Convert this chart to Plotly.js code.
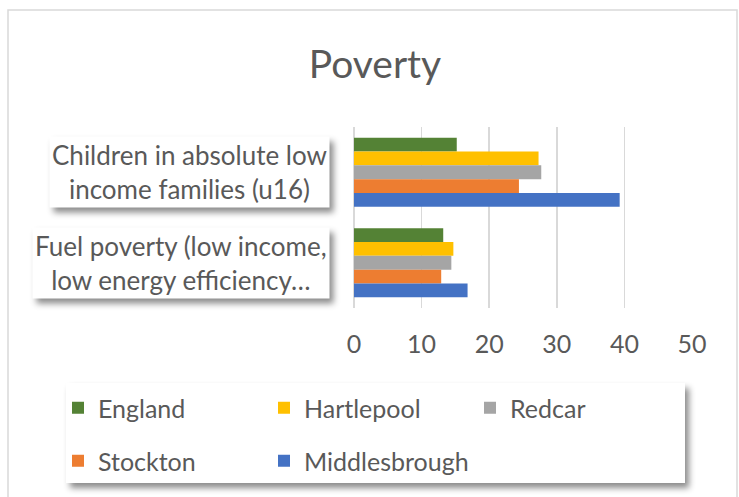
<!DOCTYPE html>
<html>
<head>
<meta charset="utf-8">
<script src="https://cdn.plot.ly/plotly-3.0.1.min.js"></script>
<style>
  html, body { margin: 0; padding: 0; background: #ffffff; }
  #chart { width: 739px; height: 497px; }
</style>
</head>
<body>
<div id="chart"></div>
<script>
// Indicator categories (top to bottom) and their drawn labels
const categories = [
  'Children in absolute low income families (u16)',
  'Fuel poverty (low income, low energy efficiency…'
];
const tickLabels = [
  'Children in absolute low<br>income families (u16)',
  'Fuel poverty (low income,<br>low energy efficiency…'
];

// Series values (%), one per category
const england       = [15.2, 13.2];
const hartlepool    = [27.3, 14.7];
const redcar        = [27.7, 14.4];
const stockton      = [24.4, 12.9];
const middlesbrough = [39.3, 16.8];

const xTicks = [0, 10, 20, 30, 40, 50];

// Layout geometry helpers (pixel -> paper coordinates)
const FIG_W = 739, FIG_H = 497;
const M = { l: 354, r: 47, t: 127, b: 189 };
const PW = FIG_W - M.l - M.r;
const PH = FIG_H - M.t - M.b;
const px = x => (x - M.l) / PW;
const py = y => (M.t + PH - y) / PH;

const FONT = 'Lato, "Open Sans", sans-serif';
const TXT = '#595959';
const SHADOW = 'drop-shadow(4px 5px 3px rgba(0,0,0,0.45))';

function series(name, values, color, legend) {
  return {
    type: 'bar',
    orientation: 'h',
    name: name,
    y: categories,
    x: values,
    marker: { color: color, line: { width: 0 } },
    legend: legend,
    hoverinfo: 'x+name'
  };
}

const data = [
  series('England', england, '#548235', 'legend'),
  series('Hartlepool', hartlepool, '#FFC000', 'legend'),
  series('Redcar', redcar, '#A5A5A5', 'legend'),
  series('Stockton', stockton, '#ED7D31', 'legend2'),
  series('Middlesbrough', middlesbrough, '#4472C4', 'legend2')
];

// Category labels drawn as white boxes beside each bar group
const annotations = categories.map((cat, i) => ({
  xref: 'paper', yref: 'y', x: px(330), y: cat,
  xanchor: 'right', yanchor: 'middle',
  text: tickLabels[i], showarrow: false, align: 'center',
  font: { family: FONT, size: 26, color: TXT },
  bgcolor: '#ffffff', borderpad: 2
}));

// Chart frame and legend panel
const shapes = [
  {
    type: 'rect', xref: 'paper', yref: 'paper', layer: 'below',
    x0: px(8), x1: px(737), y0: py(10), y1: py(520),
    line: { color: '#d9d9d9', width: 1.5 }, fillcolor: 'rgba(0,0,0,0)'
  },
  {
    type: 'rect', xref: 'paper', yref: 'paper', layer: 'above',
    x0: px(66), x1: px(685), y0: py(483), y1: py(383),
    line: { width: 0 }, fillcolor: '#ffffff'
  }
];

const legendCommon = {
  orientation: 'h',
  xref: 'paper', yref: 'paper',
  xanchor: 'left', yanchor: 'middle',
  bgcolor: 'rgba(0,0,0,0)', borderwidth: 0,
  font: { family: FONT, size: 25, color: TXT },
  entrywidth: 161, entrywidthmode: 'pixels',
  traceorder: 'normal'
};

const layout = {
  width: FIG_W, height: FIG_H,
  margin: M,
  paper_bgcolor: '#ffffff', plot_bgcolor: '#ffffff',
  font: { family: FONT, color: TXT },
  title: {
    text: 'Poverty',
    font: { family: FONT, size: 39, color: TXT },
    xref: 'container', yref: 'container',
    x: 375 / FIG_W, xanchor: 'center',
    y: 1 - 64 / FIG_H, yanchor: 'middle'
  },
  barmode: 'group',
  bargap: 0.237,
  bargroupgap: 0,
  xaxis: {
    range: [0, 50],
    tickvals: xTicks,
    ticktext: xTicks.map(String),
    showgrid: true, gridcolor: '#d9d9d9', gridwidth: 1.5,
    zeroline: true, zerolinecolor: '#d9d9d9', zerolinewidth: 1.5,
    showline: false, ticks: '',
    ticklabelstandoff: 19,
    tickfont: { family: FONT, size: 25, color: TXT },
    fixedrange: true
  },
  yaxis: {
    type: 'category',
    categoryorder: 'array', categoryarray: categories,
    autorange: 'reversed',
    showticklabels: false, showgrid: false, zeroline: false, showline: false,
    ticks: '', fixedrange: true
  },
  legend: Object.assign({}, legendCommon, { x: px(58), y: py(408) }),
  legend2: Object.assign({}, legendCommon, { x: px(58), y: py(461) }),
  annotations: annotations,
  shapes: shapes,
  showlegend: true
};

Plotly.newPlot('chart', data, layout, { displayModeBar: false, staticPlot: true })
  .then(gd => {
    // soft drop shadows under the label boxes and the legend panel
    gd.querySelectorAll('.annotation rect.bg').forEach(r => { r.style.filter = SHADOW; });
    gd.querySelectorAll('.layer-above .shapelayer path').forEach(p => { p.style.filter = SHADOW; });
  });
</script>
</body>
</html>
